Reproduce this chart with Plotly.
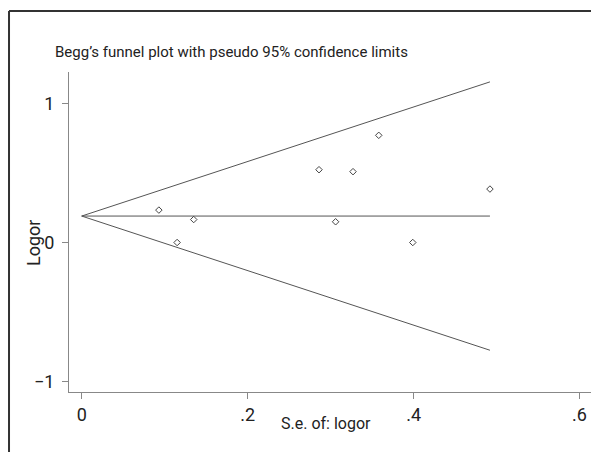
import plotly.graph_objects as go

# Study data
se = [0.093, 0.115, 0.135, 0.286, 0.306, 0.327, 0.358, 0.399, 0.492]
logor = [0.233, 0.0, 0.165, 0.523, 0.149, 0.509, 0.770, 0.0, 0.384]

# Pooled estimate and pseudo 95% limits endpoints
line_x = [0.0, 0.492]
center_y = [0.19, 0.19]
upper_y = [0.19, 1.154]
lower_y = [0.19, -0.774]

x_ticks = [0, 0.2, 0.4, 0.6]
x_tick_labels = ["0", ".2", ".4", ".6"]
y_ticks = [-1, 0, 1]
y_tick_labels = ["\u22121", "0", "1"]

FONT = "Roboto, sans-serif"
LINE = "#555555"
TXT = "#222222"

fig = go.Figure()
for yy in (upper_y, center_y, lower_y):
    fig.add_trace(go.Scatter(x=line_x, y=yy, mode="lines",
                             line=dict(color=LINE, width=1), hoverinfo="skip"))
fig.add_trace(go.Scatter(x=se, y=logor, mode="markers",
                         marker=dict(symbol="diamond-open", size=5,
                                     color="#444444", line=dict(width=1))))

fig.update_layout(
    width=591, height=444,
    margin=dict(l=61, r=7, t=64, b=60, autoexpand=False),
    paper_bgcolor="white", plot_bgcolor="white",
    showlegend=False,
    font=dict(family=FONT, size=16, color=TXT),
    xaxis=dict(range=[-0.0153, 0.615], tickvals=x_ticks, ticktext=x_tick_labels,
               showgrid=False, zeroline=False, showline=True, linecolor="#888888",
               linewidth=1, ticks="outside", ticklen=6, tickcolor="#888888",
               automargin=False, tickfont=dict(size=18)),
    yaxis=dict(range=[-1.074, 1.225], tickvals=y_ticks, ticktext=y_tick_labels,
               showgrid=False, zeroline=False, showline=True, linecolor="#888888",
               linewidth=1, ticks="outside", ticklen=6, tickcolor="#888888",
               automargin=False, tickfont=dict(size=18), ticklabelstandoff=4),
    shapes=[
        dict(type="line", xref="paper", yref="paper", x0=-0.1147, x1=1.05,
             y0=1.1906, y1=1.1906, line=dict(color="#333333", width=2)),
        dict(type="line", xref="paper", yref="paper", x0=-0.1147, x1=-0.1147,
             y0=1.1906, y1=-0.25, line=dict(color="#333333", width=2)),
    ],
    annotations=[
        dict(text="Begg\u2019s funnel plot with pseudo 95% confidence limits",
             xref="paper", yref="paper", x=-0.0306, y=1.0625,
             xanchor="left", yanchor="middle", showarrow=False,
             font=dict(family=FONT, size=15, color=TXT)),
        dict(text="Logor", xref="paper", yref="paper", x=-0.0688, y=0.4656,
             xanchor="center", yanchor="middle", textangle=-90, showarrow=False,
             font=dict(family=FONT, size=18, color=TXT)),
        dict(text="S.e. of: logor", xref="paper", yref="paper", x=0.4914, y=-0.0969,
             xanchor="center", yanchor="middle", showarrow=False,
             font=dict(family=FONT, size=16, color=TXT)),
    ],
)

fig.write_html("out.html")
